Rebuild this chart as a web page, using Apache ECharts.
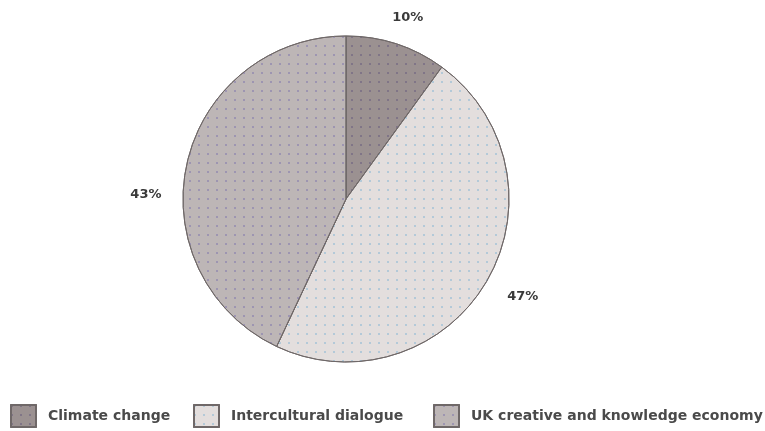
<!DOCTYPE html>
<html>
<head>
<meta charset="utf-8">
<script src="https://cdn.jsdelivr.net/npm/echarts@6/dist/echarts.min.js"></script>
<style>
  html, body { margin: 0; padding: 0; background: #ffffff; }
  #chart { width: 765px; height: 431px; }
</style>
</head>
<body>
<div id="chart"></div>
<script>
// Share of projects by theme (percent)
const categories = ['Climate change', 'Intercultural dialogue', 'UK creative and knowledge economy'];
const shares = [10, 47, 43];

const sliceColors = ['#9b9191', '#e3dedd', '#bdb6b6'];
const dotColors = ['rgba(95,85,125,0.45)', 'rgba(120,175,210,0.45)', 'rgba(110,100,170,0.40)'];
const legendLeft = [10, 193, 433];
// nudges applied to the outside percentage labels
const labelNudge = [[-22, -5], [-9, 3], [7, 36]];

const chart = echarts.init(document.getElementById('chart'), null, { renderer: 'canvas' });

const pieData = categories.map((name, i) => ({
  name: name,
  value: shares[i],
  itemStyle: {
    color: sliceColors[i],
    decal: {
      symbol: 'rect',
      symbolSize: 1,
      dashArrayX: [[1.6, 6.4]],
      dashArrayY: [1.6, 6.4],
      color: dotColors[i]
    }
  }
}));

const legends = categories.map((name, i) => ({
  data: [name],
  left: legendLeft[i],
  top: 404,
  padding: 0,
  orient: 'horizontal',
  itemWidth: 25,
  itemHeight: 22,
  itemGap: 0,
  icon: 'rect',
  selectedMode: false,
  textStyle: {
    fontFamily: 'DejaVu Sans',
    fontSize: 14,
    fontWeight: 'bold',
    color: '#4a4a4a',
    padding: [0, 0, 0, 7]
  }
}));

chart.setOption({
  animation: false,
  backgroundColor: '#ffffff',
  aria: { enabled: false, decal: { show: true } },
  legend: legends,
  series: [{
    type: 'pie',
    center: [346, 199],
    radius: 163,
    startAngle: 90,
    clockwise: true,
    avoidLabelOverlap: false,
    data: pieData,
    itemStyle: {
      borderColor: '#6f6868',
      borderWidth: 1
    },
    label: {
      show: true,
      position: 'outside',
      formatter: '{d}%',
      fontFamily: 'DejaVu Sans',
      fontSize: 13,
      fontWeight: 'bold',
      color: '#3a3a3a'
    },
    labelLine: { show: false, length: 22, length2: 6 },
    labelLayout: function (params) {
      const n = labelNudge[params.dataIndex];
      return { dx: n[0], dy: n[1] };
    },
    emphasis: { disabled: true }
  }]
});
</script>
</body>
</html>
